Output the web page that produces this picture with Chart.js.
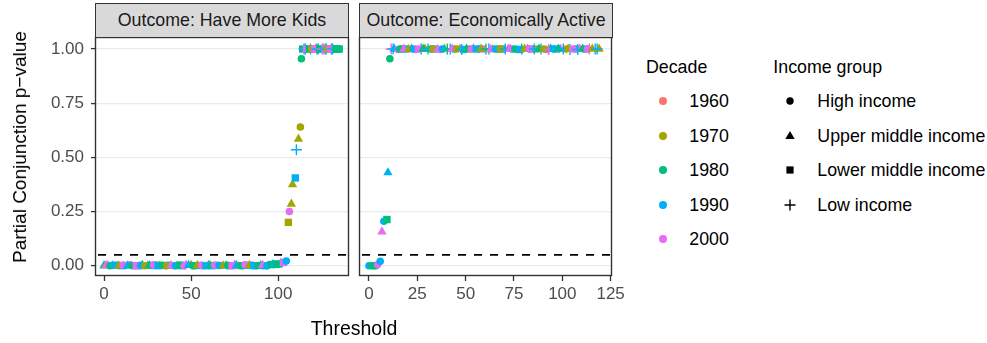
<!DOCTYPE html>
<html>
<head>
<meta charset="utf-8">
<script src="https://cdn.jsdelivr.net/npm/chart.js@4.4.1/dist/chart.umd.min.js"></script>
<style>
  body { margin: 0; background: #fff; }
  #page { position: relative; width: 987px; height: 343px; overflow: hidden; font-family: "Liberation Sans", Arial, sans-serif; }
  canvas { position: absolute; }
  .strip { position: absolute; top: 3px; height: 35px; width: 254px; box-sizing: border-box; background: #d9d9d9; border: 1px solid #333; color: #1a1a1a; font-size: 17.8px; line-height: 33px; text-align: center; white-space: nowrap; }
  .txt { position: absolute; white-space: nowrap; color: #000; font-size: 17.8px; line-height: 20px; }
  .key { position: absolute; }
</style>
</head>
<body>
<div id="page">
  <div class="strip" style="left:95px">Outcome: Have More Kids</div>
  <div class="strip" style="left:359px">Outcome: Economically Active</div>
  <canvas id="kidsChart" style="left:0;top:37px" width="352" height="290"></canvas>
  <canvas id="activeChart" style="left:356px;top:37px" width="275" height="290"></canvas>
  <div class="txt" style="left:20px;top:147px;font-size:19px;transform:translate(-50%,-50%) rotate(-90deg)">Partial Conjunction p−value</div>
  <div class="txt" style="left:354px;top:328px;font-size:19.5px;transform:translate(-50%,-50%)">Threshold</div>
  <div id="legend"></div>
</div>
<script>
const decades = ["1960", "1970", "1980", "1990", "2000"];
const incomeGroups = ["High income", "Upper middle income", "Lower middle income", "Low income"];
const incomeCodes = ["H", "UM", "LM", "L"];
const yTicks = [0, 0.25, 0.5, 0.75, 1];
const kidsXTicks = [0, 50, 100];
const activeXTicks = [0, 25, 50, 75, 100, 125];
const pCutoff = 0.05;

// Outcome: Have More Kids
const kidsThreshold = [
  0, 2, 5, 7, 10, 12, 15, 17, 20, 22,
  25, 27, 30, 32, 35, 37, 40, 42, 45, 47,
  50, 52, 55, 57, 60, 62, 65, 67, 70, 72,
  75, 77, 80, 82, 85, 87, 90, 92, 95, 97,
  1, 3.5, 6, 8.5, 11, 13.5, 16, 18.5, 21, 23.5,
  26, 28.5, 31, 33.5, 36, 38.5, 41, 43.5, 46, 48.5,
  51, 53.5, 56, 58.5, 61, 63.5, 66, 68.5, 71, 73.5,
  76, 78.5, 81, 83.5, 86, 88.5, 91, 93.5, 96, 98,
  99, 100.5, 101.5, 103, 104.6, 105.8, 106.4, 107.5, 108.2, 109.8,
  110.4, 111.6, 112.7, 113.3,
  114, 115.5, 117, 118.5, 120, 121.5, 123, 124.5, 126, 127.5,
  129, 130.5, 132, 134,
  114.8, 116.2, 117.8, 119.2, 120.8, 122.2, 123.8, 125.2, 127, 128.2,
  129.8, 131.2, 133, 135
];
const kidsPvalue = [
  0, 0.003, 0, 0.002, 0, 0.001, 0.004, 0, 0, 0.002,
  0, 0.001, 0.003, 0, 0, 0.002, 0, 0.001, 0, 0.004,
  0.002, 0, 0.001, 0, 0.003, 0, 0.002, 0.001, 0, 0,
  0.004, 0.001, 0, 0.002, 0.003, 0, 0.001, 0, 0.005, 0.006,
  0.001, 0, 0.002, 0, 0.003, 0, 0.001, 0, 0.002, 0,
  0.001, 0.004, 0, 0.002, 0, 0.001, 0, 0.003, 0, 0.002,
  0, 0.001, 0.002, 0, 0, 0.003, 0.001, 0, 0.002, 0,
  0.001, 0, 0.004, 0.002, 0, 0.001, 0.003, 0, 0.005, 0.007,
  0.006, 0.008, 0.012, 0.015, 0.022, 0.2, 0.25, 0.285, 0.375, 0.405,
  0.535, 0.585, 0.64, 0.955,
  1, 1, 1, 1, 1, 1, 1, 1, 1, 1,
  1, 1, 1, 1,
  1, 1, 1, 1, 1, 1, 1, 1, 1, 1,
  1, 1, 1, 1
];
const kidsDecade = [
  1980, 2000, 1990, 2000, 1990, 1980, 2000, 1970, 1990, 1980,
  2000, 1990, 1980, 1970, 2000, 1990, 1960, 1980, 1990, 2000,
  1970, 1980, 1990, 2000, 1980, 1990, 1970, 2000, 1980, 1990,
  2000, 1970, 1980, 1990, 2000, 1960, 1980, 1990, 2000, 1980,
  2000, 1980, 1990, 1970, 2000, 1990, 1980, 2000, 1990, 1970,
  1980, 2000, 1990, 1980, 1970, 2000, 1990, 1980, 2000, 1990,
  1980, 1970, 2000, 1990, 1980, 2000, 1990, 1970, 1980, 2000,
  1990, 1980, 2000, 1970, 1990, 1980, 2000, 1990, 1980, 1990,
  1980, 1980, 1980, 2000, 1990, 1970, 2000, 1970, 1970, 1990,
  1990, 1970, 1970, 1980,
  1980, 1990, 1970, 1990, 2000, 1970, 1990, 2000, 2000, 1990,
  1980, 1990, 1980, 1980,
  1990, 2000, 1980, 1970, 2000, 1990, 1980, 2000, 1990, 1970,
  2000, 1990, 1980, 1980
];
const kidsIncome = [
  "UM", "UM", "UM", "H", "LM", "H", "H", "H", "LM", "UM",
  "UM", "LM", "H", "UM", "H", "LM", "H", "H", "LM", "UM",
  "UM", "H", "LM", "H", "UM", "LM", "H", "H", "UM", "LM",
  "UM", "H", "H", "LM", "H", "H", "UM", "LM", "H", "UM",
  "UM", "H", "LM", "UM", "H", "UM", "H", "LM", "H", "H",
  "UM", "H", "LM", "H", "H", "UM", "H", "LM", "H", "UM",
  "H", "UM", "H", "LM", "UM", "H", "H", "UM", "H", "LM",
  "UM", "H", "H", "UM", "LM", "H", "UM", "H", "LM", "LM",
  "LM", "LM", "UM", "LM", "H", "LM", "H", "UM", "UM", "LM",
  "L", "UM", "H", "H",
  "LM", "L", "H", "L", "LM", "UM", "L", "LM", "L", "L",
  "LM", "L", "LM", "LM",
  "L", "LM", "LM", "H", "LM", "L", "LM", "L", "L", "H",
  "LM", "L", "LM", "LM"
];

// Outcome: Economically Active
const activeThreshold = [
  0, 1.5, 2.5, 3.5, 4.5, 5.8,
  6.7, 7.7, 9.3, 9.8, 10.8,
  11.5, 13, 15, 17, 19, 22, 24, 27, 29, 32,
  34, 37, 39, 42, 44, 47, 49, 52, 54, 57,
  59, 62, 64, 67, 69, 72, 74, 77, 79, 82,
  84, 87, 89, 92, 94, 97, 99, 102, 104, 107,
  109, 112, 114, 117, 119,
  12.5, 16, 18, 20.5, 23, 25.5, 28, 30.5, 33, 35.5,
  38, 40.5, 43, 45.5, 48, 50.5, 53, 55.5, 58, 60.5,
  63, 65.5, 68, 70.5, 73, 75.5, 78, 80.5, 83, 85.5,
  88, 90.5, 93, 95.5, 98, 100.5, 103, 105.5, 108, 110.5,
  113, 115.5, 118
];
const activePvalue = [
  0, 0, 0, 0, 0.005, 0.02,
  0.157, 0.205, 0.213, 0.43, 0.955,
  1, 1, 0.998, 1, 1, 1, 0.998, 1, 1, 1,
  1, 0.998, 1, 1, 1, 1, 0.998, 1, 1, 1,
  1, 1, 0.998, 1, 1, 1, 1, 0.998, 1, 1,
  1, 1, 1, 0.998, 1, 1, 1, 1, 0.998, 1,
  1, 1, 1, 1, 1,
  1, 1, 1, 0.998, 1, 1, 1, 1, 1, 0.998,
  1, 1, 1, 1, 0.998, 1, 1, 1, 1, 1,
  0.998, 1, 1, 1, 1, 1, 0.998, 1, 1, 1,
  1, 1, 0.998, 1, 1, 1, 1, 1, 0.998, 1,
  1, 1, 1
];
const activeDecade = [
  1990, 1980, 1980, 1980, 2000, 1990,
  2000, 1990, 1980, 1990, 1980,
  2000, 1990, 2000, 1970, 1990, 1980, 2000, 1990, 1970, 1980,
  1990, 2000, 1970, 1990, 1980, 2000, 1990, 1970, 1980, 1990,
  2000, 1990, 1970, 1980, 1990, 2000, 1990, 1970, 1980, 2000,
  1990, 1970, 1990, 2000, 1980, 1990, 2000, 1970, 1990, 1980,
  2000, 1990, 2000, 1990, 1970,
  1990, 1980, 2000, 1970, 1990, 2000, 1980, 1990, 1970, 2000,
  1990, 1980, 2000, 1970, 1990, 1980, 2000, 1990, 1970, 1980,
  2000, 1990, 1970, 1990, 2000, 1980, 1990, 1970, 2000, 1990,
  1980, 1970, 2000, 1990, 1980, 1990, 1970, 2000, 1990, 1980,
  2000, 1970, 1990
];
const activeIncome = [
  "H", "H", "H", "H", "H", "H",
  "UM", "H", "LM", "UM", "H",
  "L", "UM", "H", "H", "LM", "UM", "H", "L", "UM", "H",
  "LM", "H", "UM", "L", "H", "UM", "LM", "H", "UM", "H",
  "H", "L", "UM", "H", "LM", "UM", "H", "H", "L", "UM",
  "LM", "H", "L", "H", "UM", "LM", "UM", "H", "L", "H",
  "UM", "LM", "L", "L", "UM",
  "L", "H", "UM", "UM", "H", "LM", "UM", "L", "H", "UM",
  "H", "L", "UM", "H", "L", "UM", "H", "LM", "UM", "L",
  "UM", "H", "H", "L", "UM", "H", "LM", "UM", "H", "L",
  "UM", "H", "L", "H", "UM", "L", "UM", "H", "L", "UM",
  "H", "UM", "L"
];

const decadeColors = ["#F8766D", "#A3A500", "#00BF7D", "#00B0F6", "#E76BF3"];
const shapeStyles = ["circle", "triangle", "rect", "cross"];
const shapeRadius = [3.8, 5.4, 5.2, 5.5];
const FONT = '"Liberation Sans", Arial, sans-serif';

Chart.defaults.font.family = FONT;

function makeDataset(threshold, pvalue, decade, income) {
  const colorOf = (c) => decadeColors[decades.indexOf(String(decade[c.dataIndex]))];
  const shapeOf = (c) => incomeCodes.indexOf(income[c.dataIndex]);
  return {
    data: threshold.map((t, i) => ({ x: t, y: pvalue[i] })),
    backgroundColor: colorOf,
    borderColor: colorOf,
    pointStyle: (c) => shapeStyles[shapeOf(c)],
    pointRadius: (c) => shapeRadius[shapeOf(c)],
    borderWidth: (c) => (shapeOf(c) === 3 ? 1.4 : 0),
    pointHoverRadius: (c) => shapeRadius[shapeOf(c)]
  };
}

const panelDecor = {
  id: "panelDecor",
  afterDraw(chart) {
    const { ctx, chartArea: ca, scales } = chart;
    const y = scales.y.getPixelForValue(pCutoff);
    ctx.save();
    ctx.beginPath();
    ctx.rect(ca.left, ca.top, ca.width, ca.height);
    ctx.clip();
    ctx.setLineDash([8, 8]);
    ctx.lineWidth = 1.7;
    ctx.strokeStyle = "#000";
    ctx.beginPath();
    ctx.moveTo(ca.left + 2, y);
    ctx.lineTo(ca.right, y);
    ctx.stroke();
    ctx.restore();

    ctx.save();
    ctx.strokeStyle = "#333";
    ctx.lineWidth = 1.4;
    ctx.strokeRect(ca.left - 0.5, ca.top + 0.5, ca.width, ca.height - 1);
    ctx.restore();
  }
};

function makeChart(id, dataset, xTicks, xMin, xMax, showY, padRight) {
  return new Chart(document.getElementById(id), {
    type: "scatter",
    data: { datasets: [dataset] },
    options: {
      responsive: false,
      animation: false,
      layout: { autoPadding: false, padding: { left: 0, right: padRight, top: 0, bottom: 0 } },
      plugins: { legend: { display: false }, tooltip: { enabled: false } },
      scales: {
        x: {
          type: "linear",
          min: xMin,
          max: xMax,
          afterBuildTicks: (s) => { s.ticks = xTicks.map((v) => ({ value: v })); },
          afterFit: (s) => { s.height = 51; s.paddingLeft = 0; s.paddingRight = 0; },
          border: { display: false },
          grid: { drawOnChartArea: false, drawTicks: true, tickLength: 5, tickColor: "#333", tickWidth: 1.3 },
          ticks: { color: "#4d4d4d", font: { size: 17 }, padding: 3, maxRotation: 0, autoSkip: false }
        },
        y: {
          type: "linear",
          min: -0.0475,
          max: 1.0554,
          afterBuildTicks: (s) => { s.ticks = yTicks.map((v) => ({ value: v })); },
          afterFit: (s) => { s.width = showY ? 96 : 4; s.paddingTop = 0; s.paddingBottom = 0; },
          border: { display: false },
          grid: { color: "#ebebeb", lineWidth: 1.2, drawTicks: showY, tickLength: 5, tickColor: "#333", tickWidth: 1.3 },
          ticks: { display: showY, color: "#4d4d4d", font: { size: 17 }, padding: 7, callback: (v) => v.toFixed(2) }
        }
      }
    },
    plugins: [panelDecor]
  });
}

makeChart("kidsChart", makeDataset(kidsThreshold, kidsPvalue, kidsDecade, kidsIncome), kidsXTicks, -4.6, 140.6, true, 3);
makeChart("activeChart", makeDataset(activeThreshold, activePvalue, activeDecade, activeIncome), activeXTicks, -4.65, 125.7, false, 19);

// legends
const legendEl = document.getElementById("legend");
function addText(text, left, cy) {
  const d = document.createElement("div");
  d.className = "txt";
  d.textContent = text;
  d.style.left = left + "px";
  d.style.top = (cy - 10) + "px";
  legendEl.appendChild(d);
}
function addKey(inner, cx, cy) {
  const d = document.createElement("div");
  d.className = "key";
  d.style.left = (cx - 7) + "px";
  d.style.top = (cy - 7) + "px";
  d.innerHTML = '<svg width="14" height="14" viewBox="0 0 14 14">' + inner + "</svg>";
  legendEl.appendChild(d);
}
const keyShapes = [
  '<circle cx="7" cy="7" r="3.7" fill="#000"/>',
  '<polygon points="7,2 11.7,10 2.3,10" fill="#000"/>',
  '<rect x="3.4" y="3.4" width="7.2" height="7.2" fill="#000"/>',
  '<path d="M1.5 7H12.5M7 1.5V12.5" stroke="#000" stroke-width="1.4"/>'
];
addText("Decade", 646, 67);
decades.forEach((d, i) => {
  const cy = 101 + i * 34.6;
  addKey('<circle cx="7" cy="7" r="4" fill="' + decadeColors[i] + '"/>', 663.3, cy);
  addText(d, 689.3, cy);
});
addText("Income group", 773.3, 67);
incomeGroups.forEach((g, i) => {
  const cy = 101 + i * 34.6;
  addKey(keyShapes[i], 790, cy);
  addText(g, 817.3, cy);
});
</script>
</body>
</html>
